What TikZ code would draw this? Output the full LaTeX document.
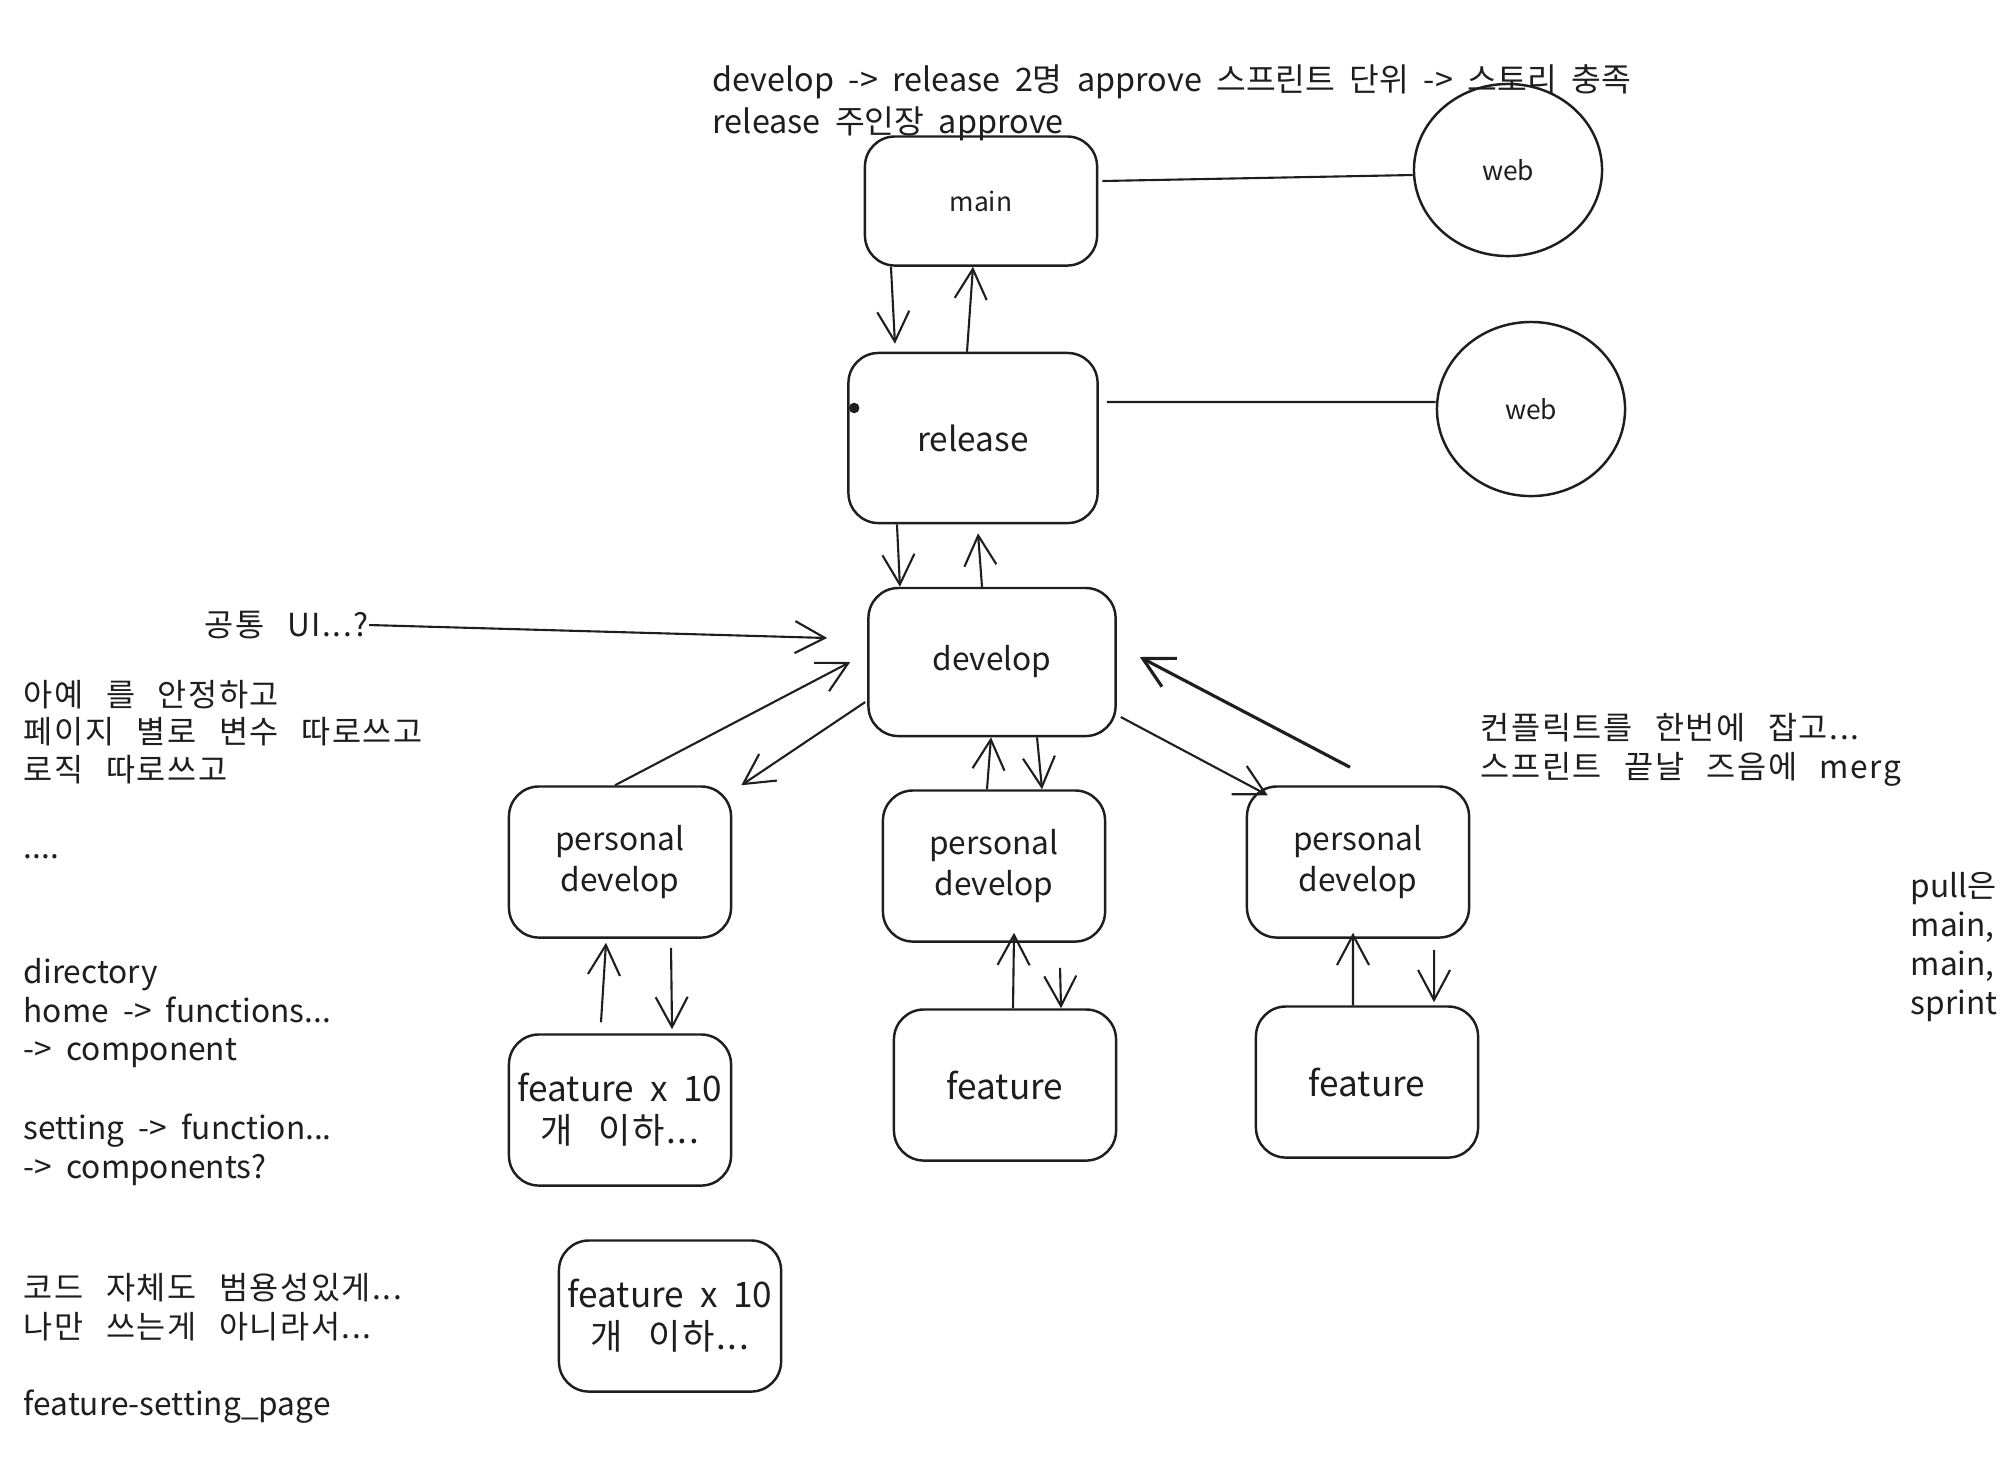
\documentclass[tikz,border=0pt]{standalone}
\usepackage{fontspec}
\setmainfont[WordSpace=2]{Noto Sans CJK KR}
\newfontfamily\hangul[WordSpace=2.6, LetterSpace=5]{Noto Sans CJK KR}
\usepackage{xcolor}
\usepackage{tikz}
\usetikzlibrary{shapes.geometric, arrows.meta, positioning}
\definecolor{ink}{HTML}{1E1E1E}

\begin{document}
\begin{tikzpicture}[x=0.01cm, y=-0.01cm, auto, color=ink]
\tikzstyle{branch} = [rectangle, draw, rounded corners=0.3cm, line width=0.7pt, align=center, inner sep=0pt, minimum width=2.22cm, minimum height=1.51cm, font=\fontsize{9}{11.5}\selectfont]
\tikzstyle{site} = [ellipse, draw, line width=0.7pt, minimum width=1.88cm, minimum height=1.74cm, inner sep=0pt, font=\fontsize{7.5}{9}\selectfont]
\tikzstyle{note} = [anchor=west, align=left, inner sep=0pt, font=\fontsize{9}{11}\selectfont]
\tikzstyle{line} = [draw, line width=0.6pt, -{Straight Barb[length=0.3cm, width=0.32cm]}]
\tikzstyle{link} = [draw, line width=0.6pt]

\useasboundingbox (0,0) rectangle (2000,1456);

\node [branch, minimum width=2.32cm, minimum height=1.29cm, font=\fontsize{7.5}{9}\selectfont] (main) at (981,201) {main};
\node [branch, minimum width=2.49cm, minimum height=1.70cm, font=\fontsize{9.5}{11}\selectfont] (release) at (973,438) {release};
\node [branch, minimum width=2.47cm, minimum height=1.48cm] (develop) at (992,662) {develop};
\node [branch] (pd1) at (620,862) {personal\\develop};
\node [branch] (pd2) at (994,866) {personal\\develop};
\node [branch] (pd3) at (1358,862) {personal\\develop};
\node [branch, font=\fontsize{10}{12}\selectfont] (fx1) at (620,1110) {feature x 10\\{\hangul 개 이하...}};
\node [branch, font=\fontsize{10}{12}\selectfont] (feat2) at (1005,1085) {feature};
\node [branch, font=\fontsize{10}{12}\selectfont] (feat3) at (1367,1082) {feature};
\node [branch, font=\fontsize{10}{12}\selectfont] (fx2) at (670,1316) {feature x 10\\{\hangul 개 이하...}};
\node [site, minimum height=1.72cm] (web1) at (1508,170) {web};
\node [site] (web2) at (1531,409) {web};

\node [note, font=\fontsize{9.2}{12}\selectfont] (plan) at (712,103) {develop -> release 2명 approve 스프린트 단위 -> 스토리 충족\\release 주인장 approve};
\node [note, font=\fontsize{9}{11}\hangul] (ui) at (204,625) {공통 UI...?};
\node [note, font=\fontsize{9}{10.6}\hangul] (stable) at (23,732) {아예 를 안정하고\\페이지 별로 변수 따로쓰고\\로직 따로쓰고};
\node [note] (dots) at (23,857) {....};
\node [note] (dir) at (23,1013) {directory\\home -> functions...\\-> component};
\node [note] (setting) at (23,1150) {setting -> function...\\-> components?};
\node [note, font=\fontsize{9}{11}\hangul] (generic) at (23,1307) {코드 자체도 범용성있게...\\나만 쓰는게 아니라서...};
\node [note] (page) at (23,1407) {feature-setting\_page};
\node [note, font=\fontsize{9}{11}\hangul] (conflict) at (1480,750) {컨플릭트를 한번에 잡고...\\스프린트 끝날 즈음에 merg};
\node [note] (pull) at (1910,947) {pull은\\main,\\main,\\sprint};

\draw [line] ([xshift=-0.9cm]main.south) -- ([xshift=-0.78cm, yshift=0.08cm]release.north);
\draw [line] ([xshift=-0.06cm]release.north) -- ([xshift=-0.08cm]main.south);
\draw [line] ([xshift=-0.76cm]release.south) -- ([xshift=-0.92cm]develop.north);
\draw [line] ([xshift=-0.1cm]develop.north) -- ([xshift=0.05cm, yshift=-0.09cm]release.south);
\draw [line] (ui.east) -- ([xshift=-0.4cm, yshift=0.24cm]develop.west);
\draw [line] ([xshift=-0.05cm]pd1.north) -- ([xshift=-0.17cm]develop.west);
\draw [line] ([xshift=-0.02cm, yshift=-0.4cm]develop.west) -- ([xshift=0.09cm]pd1.north east);
\draw [line] ([xshift=0.45cm]develop.south) -- ([xshift=0.48cm]pd2.north);
\draw [line] ([xshift=-0.07cm]pd2.north) -- ([xshift=-0.01cm]develop.south);
\draw [line] ([xshift=0.04cm, yshift=-0.55cm]develop.east) -- ([xshift=0.22cm, yshift=-0.1cm]pd3.north west);
\draw [line, line width=0.9pt] ([xshift=-0.08cm, yshift=0.18cm]pd3.north) -- ([xshift=0.23cm, yshift=0.05cm]develop.east);
\draw [line] ([xshift=-0.19cm, yshift=0.11cm]fx1.north) -- ([xshift=-0.14cm, yshift=-0.04cm]pd1.south);
\draw [line] ([xshift=0.51cm, yshift=-0.09cm]pd1.south) -- ([xshift=0.52cm, yshift=0.04cm]fx1.north);
\draw [line] ([xshift=0.08cm]feat2.north) -- ([xshift=0.2cm, yshift=0.1cm]pd2.south);
\draw [line] ([xshift=0.66cm, yshift=-0.25cm]pd2.south) -- ([xshift=0.56cm]feat2.north);
\draw [line] ([xshift=-0.14cm]feat3.north) -- ([xshift=-0.05cm, yshift=0.06cm]pd3.south);
\draw [line] ([xshift=0.76cm, yshift=-0.11cm]pd3.south) -- ([xshift=0.67cm, yshift=0.03cm]feat3.north);
\draw [link] ([xshift=0.04cm, yshift=0.2cm]main.east) -- ([yshift=-0.05cm]web1.west);
\draw [link] ([xshift=0.08cm, yshift=0.36cm]release.east) -- ([yshift=0.07cm]web2.west);
\fill ([xshift=0.07cm, yshift=0.3cm]release.west) circle (1.5pt);
\end{tikzpicture}
\end{document}
